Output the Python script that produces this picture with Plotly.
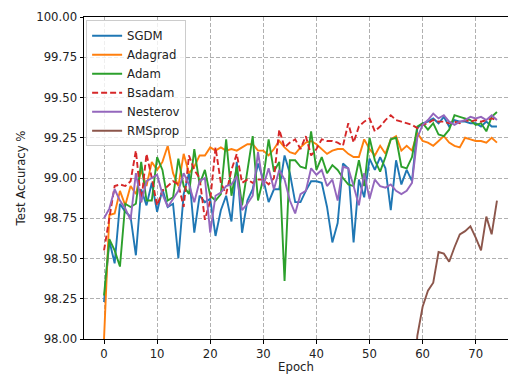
import plotly.graph_objects as go

epochs = list(range(75))

sgdm = [98.23, 98.61, 98.47, 98.84, 98.79, 98.76, 98.52, 98.93, 98.83, 98.97,
        98.79, 98.93, 98.82, 98.84, 98.50, 98.90, 99.03, 98.66, 98.89, 98.85,
        98.87, 98.64, 98.80, 98.89, 98.73, 99.10, 98.66, 98.86, 98.93, 99.09,
        98.99, 98.85, 98.93, 98.93, 99.14, 99.03, 98.85, 98.85, 98.92, 98.98,
        98.98, 98.97, 98.82, 98.60, 98.72, 99.09, 99.06, 98.60, 98.99, 98.88,
        99.12, 99.05, 99.13, 99.06, 98.80, 99.11, 98.96, 99.05, 98.98, 99.31,
        99.34, 99.35, 99.37, 99.34, 99.38, 99.32, 99.36, 99.35, 99.35, 99.34,
        99.34, 99.32, 99.35, 99.32, 99.32]

adagrad = [98.00, 98.77, 98.78, 98.92, 98.83, 98.95, 98.90, 99.05, 98.95, 99.10,
           99.05, 99.10, 99.20, 99.03, 98.95, 99.15, 99.03, 99.07, 99.14, 99.14,
           99.19, 99.17, 99.19, 99.17, 99.18, 99.17, 99.19, 99.21, 99.21, 99.17,
           99.17, 99.14, 99.18, 99.23, 99.19, 99.16, 99.15, 99.19, 99.22, 99.23,
           99.21, 99.18, 99.15, 99.17, 99.18, 99.18, 99.15, 99.13, 99.13, 99.24,
           99.18, 99.14, 99.20, 99.15, 99.24, 99.26, 99.17, 99.20, 99.17, 99.28,
           99.23, 99.22, 99.20, 99.23, 99.26, 99.22, 99.20, 99.19, 99.25, 99.24,
           99.23, 99.23, 99.22, 99.25, 99.22]

adam = [98.27, 98.62, 98.55, 98.45, 98.84, 98.82, 98.84, 99.10, 98.86, 98.86,
        99.13, 99.05, 98.86, 98.88, 99.12, 98.95, 98.90, 99.18, 98.96, 99.05,
        98.89, 98.86, 98.90, 99.24, 98.89, 99.07, 98.83, 99.04, 99.26, 98.86,
        99.00, 99.24, 99.04, 99.10, 98.36, 99.11, 99.11, 99.07, 99.06, 99.29,
        99.05, 99.13, 99.03, 99.08, 99.05, 99.00, 98.96, 98.95, 99.11, 98.95,
        99.25, 99.11, 99.04, 99.13, 99.24, 99.25, 99.07, 99.06, 99.13, 99.32,
        99.34, 99.30, 99.34, 99.27, 99.26, 99.30, 99.39, 99.38, 99.37, 99.36,
        99.33, 99.34, 99.29, 99.38, 99.41]

bsadam = [98.55, 98.75, 98.95, 98.96, 98.95, 98.98, 99.17, 98.85, 99.15, 99.00,
          98.83, 98.92, 98.95, 98.98, 98.96, 98.82, 99.14, 99.05, 99.00, 98.74,
          98.86, 99.19, 98.97, 98.90, 99.05, 99.15, 98.97, 98.99, 98.97, 98.99,
          98.99, 98.96, 99.00, 99.30, 99.19, 99.22, 99.24, 99.18, 99.26, 99.14,
          99.18, 99.24, 99.23, 99.23, 99.22, 99.20, 99.34, 99.22, 99.32, 99.35,
          99.37, 99.29, 99.32, 99.36, 99.39, 99.36, 99.35, 99.34, 99.33, 99.31,
          99.33, 99.34, 99.36, 99.35, 99.35, 99.34, 99.35, 99.34, 99.36, 99.35,
          99.36, 99.35, 99.36, 99.37, 99.36]

nesterov = [98.75, 98.81, 98.93, 98.86, 98.81, 98.74, 99.03, 98.85, 98.98, 99.00,
            99.02, 98.90, 98.82, 98.87, 98.92, 99.03, 98.96, 98.85, 98.98, 99.00,
            98.66, 98.89, 98.91, 98.95, 98.96, 99.01, 98.80, 98.84, 98.89, 99.16,
            98.95, 99.06, 98.93, 99.05, 98.99, 98.86, 98.78, 98.90, 98.92, 99.06,
            99.02, 99.05, 98.95, 98.99, 98.86, 99.07, 99.06, 98.95, 98.83, 99.03,
            98.87, 98.99, 98.95, 98.94, 98.96, 98.92, 98.90, 98.92, 98.97, 99.25,
            99.33, 99.36, 99.40, 99.37, 99.39, 99.35, 99.33, 99.35, 99.36, 99.38,
            99.37, 99.38, 99.36, 99.39, 99.36]

rmsprop = [None] * 58 + [97.50, 98.02, 98.20, 98.30, 98.35, 98.54, 98.53, 98.48,
                         98.57, 98.65, 98.67, 98.70, 98.63, 98.55, 98.76, 98.65, 98.86]

series = [
    ("SGDM", sgdm, "#1f77b4", "solid"),
    ("Adagrad", adagrad, "#ff7f0e", "solid"),
    ("Adam", adam, "#2ca02c", "solid"),
    ("Bsadam", bsadam, "#d62728", "6px,3px"),
    ("Nesterov", nesterov, "#9467bd", "solid"),
    ("RMSprop", rmsprop, "#8c564b", "solid"),
]

fig = go.Figure()
for name, vals, color, dash in series:
    fig.add_trace(go.Scatter(x=epochs, y=vals, mode="lines", name=name,
                             line=dict(color=color, width=1.9, dash=dash)))

font = "DejaVu Sans"
fig.update_layout(
    width=508, height=374,
    margin=dict(l=84, r=0, t=17, b=35),
    paper_bgcolor="white", plot_bgcolor="white",
    font=dict(family=font, size=11.7, color="#222"),
    showlegend=True,
    legend=dict(x=0.005, y=0.99, xanchor="left", yanchor="top",
                bgcolor="rgba(255,255,255,0.8)", bordercolor="#cccccc", borderwidth=1,
                font=dict(family=font, size=11.7, color="#222"), itemwidth=30,
                tracegroupgap=0),
)
fig.update_xaxes(range=[-3.77, 76.08], tickvals=[0, 10, 20, 30, 40, 50, 60, 70],
                 showgrid=True, gridcolor="#b0b0b0", griddash="4px,2px", gridwidth=0.8,
                 showline=True, linecolor="black", linewidth=1, mirror=True,
                 ticks="outside", ticklen=3.5, tickcolor="black",
                 zeroline=False,
                 title=dict(text="Epoch", standoff=5, font=dict(size=11.7)))
fig.update_yaxes(range=[98.0, 100.0], tickvals=[98.0, 98.25, 98.5, 98.75, 99.0, 99.25, 99.5, 99.75, 100.0],
                 tickformat=".2f",
                 showgrid=True, gridcolor="#b0b0b0", griddash="4px,2px", gridwidth=0.8,
                 showline=True, linecolor="black", linewidth=1, mirror=False,
                 ticks="outside", ticklen=3.5, tickcolor="black",
                 zeroline=False,
                 title=dict(text="Test Accuracy %", standoff=8, font=dict(size=11.7)))

fig.write_html("out.html", config={"displayModeBar": False},
               post_script="document.body.style.margin='0';")
